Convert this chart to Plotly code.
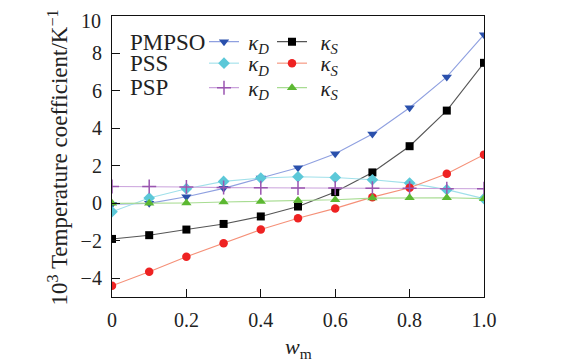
import plotly.graph_objects as go

# ---- data ----
w_m = [0.0, 0.1, 0.2, 0.3, 0.4, 0.5, 0.6, 0.7, 0.8, 0.9, 1.0]
pmpso_kd = [-0.05, 0.0, 0.35, 0.8, 1.35, 1.9, 2.65, 3.7, 5.1, 6.75, 9.0]
pmpso_ks = [-1.9, -1.7, -1.4, -1.1, -0.7, -0.17, 0.6, 1.65, 3.05, 4.95, 7.5]
pss_kd = [-0.45, 0.28, 0.78, 1.17, 1.35, 1.42, 1.38, 1.26, 1.08, 0.73, 0.25]
pss_ks = [-4.4, -3.65, -2.85, -2.13, -1.4, -0.8, -0.27, 0.33, 0.83, 1.58, 2.6]
psp_kd = [0.9, 0.9, 0.87, 0.84, 0.83, 0.82, 0.82, 0.81, 0.8, 0.78, 0.78]
psp_ks = [0.0, 0.0, 0.02, 0.07, 0.1, 0.15, 0.19, 0.28, 0.3, 0.3, 0.25]

x_ticks = [0, 0.2, 0.4, 0.6, 0.8, 1.0]
x_tick_labels = ["0", "0.2", "0.4", "0.6", "0.8", "1.0"]
y_ticks = [-4, -2, 0, 2, 4, 6, 8, 10]
y_tick_labels = ["\u22124", "\u22122", "0", "2", "4", "6", "8", "10"]

groups = ["PMPSO", "PSS", "PSP"]
x_title = "<i>w</i><sub>m</sub>"
y_title = "10<sup>3</sup> Temperature coefficient/K<sup>\u22121</sup>"

FONT = "Liberation Serif"
KD = "<i>\u03ba<sub>D</sub></i>"
KS = "<i>\u03ba<sub>S</sub></i>"

series = [
    # y, marker symbol, marker color, line color, marker size, legend id
    (pmpso_kd, "triangle-down", "#2a50ac", "#8fa0e0", 9, "legend"),
    (pmpso_ks, "square", "#000000", "#555555", 8, "legend2"),
    (pss_kd, "diamond", "#5cc8d8", "#a0e0ea", 9, "legend3"),
    (pss_ks, "circle", "#ee2222", "#f59078", 8.5, "legend4"),
    (psp_kd, "cross-thin-open", "#9a55b0", "#caa2dc", 10, "legend5"),
    (psp_ks, "triangle-up", "#5cb832", "#a8dc92", 9, "legend6"),
]
names = ["\u2009" + KD, "\u2009\u2009" + KS] * 3

fig = go.Figure()
for (y, sym, mc, lc, ms, lg), nm in zip(series, names):
    fig.add_trace(go.Scatter(
        x=w_m, y=y, mode="lines+markers", name=nm, legend=lg, showlegend=True,
        line=dict(color=lc, width=1.1),
        marker=dict(symbol=sym, color=mc, size=ms,
                    line=dict(color=mc, width=1.5 if "cross" in sym else 0)),
    ))

# geometry in window pixels; the page body adds an 8 px offset
OFF = 8
W, H = 584, 361
PL, PR, PT, PB = 112, 484, 16, 297   # plot area edges in the window
pw, ph = PR - PL, PB - PT

def px_x(p):
    return (p - PL) / pw

def px_y(p):
    return (PB - p) / ph

row_y = [42, 63.5, 88]
col_x = [204, 272]
legend_layouts = {}
ids = ["legend", "legend2", "legend3", "legend4", "legend5", "legend6"]
for i, lid in enumerate(ids):
    r, c = divmod(i, 2)
    legend_layouts[lid] = dict(
        x=px_x(col_x[c]), y=px_y(row_y[r]), xanchor="left", yanchor="middle",
        bgcolor="rgba(0,0,0,0)", borderwidth=0, orientation="v",
        font=dict(family=FONT, size=21, color="#222"),
        itemwidth=30, tracegroupgap=0, visible=True,
    )

annotations = []
for r, g in enumerate(groups):
    annotations.append(dict(
        text=g, x=px_x(128), y=px_y(row_y[r]), xref="paper", yref="paper",
        xanchor="left", yanchor="middle", showarrow=False,
        font=dict(family=FONT, size=23, color="#222"),
    ))
annotations.append(dict(
    text=y_title, textangle=-90, x=px_x(58), y=px_y(157.5),
    xref="paper", yref="paper", xanchor="center", yanchor="middle",
    showarrow=False, font=dict(family=FONT, size=23, color="#222"),
))
annotations.append(dict(
    text=x_title, x=px_x(298), y=px_y(348),
    xref="paper", yref="paper", xanchor="center", yanchor="middle",
    showarrow=False, font=dict(family=FONT, size=22, color="#222"),
))
# the top tick label sits a little below its tick in the reference
annotations.append(dict(
    text=y_tick_labels[-1], x=0, y=y_ticks[-1], xref="paper", yref="y",
    xanchor="right", yanchor="middle", xshift=-9, yshift=-5,
    showarrow=False, font=dict(family=FONT, size=20, color="#222"),
))
y_tick_text_axis = y_tick_labels[:-1] + [""]

fig.update_layout(
    template="none",
    width=W, height=H,
    margin=dict(l=PL - OFF, r=W - (PR - OFF), t=PT - OFF, b=H - (PB - OFF),
                autoexpand=False),
    paper_bgcolor="white", plot_bgcolor="white",
    font=dict(family=FONT, size=20, color="#222"),
    annotations=annotations,
    showlegend=True,
    **legend_layouts,
)
fig.update_xaxes(
    automargin=False,
    range=[0, 1.0], tickvals=x_ticks, ticktext=x_tick_labels,
    ticks="inside", ticklen=8, tickcolor="#111", tickwidth=1.2,
    showline=True, linecolor="#111", linewidth=1.2, mirror=True,
    showgrid=False, zeroline=False, ticklabelstandoff=5,
    ticklabeloverflow="allow",
    tickfont=dict(size=20, family=FONT, color="#222"),
)
fig.update_yaxes(
    automargin=False,
    range=[-5, 10], tickvals=y_ticks, ticktext=y_tick_text_axis,
    ticks="inside", ticklen=8, tickcolor="#111", tickwidth=1.2,
    showline=True, linecolor="#111", linewidth=1.2, mirror=True,
    showgrid=False, zeroline=False, ticklabelstandoff=5,
    ticklabeloverflow="allow",
    tickfont=dict(size=20, family=FONT, color="#222"),
)

fig.write_html("out.html")
